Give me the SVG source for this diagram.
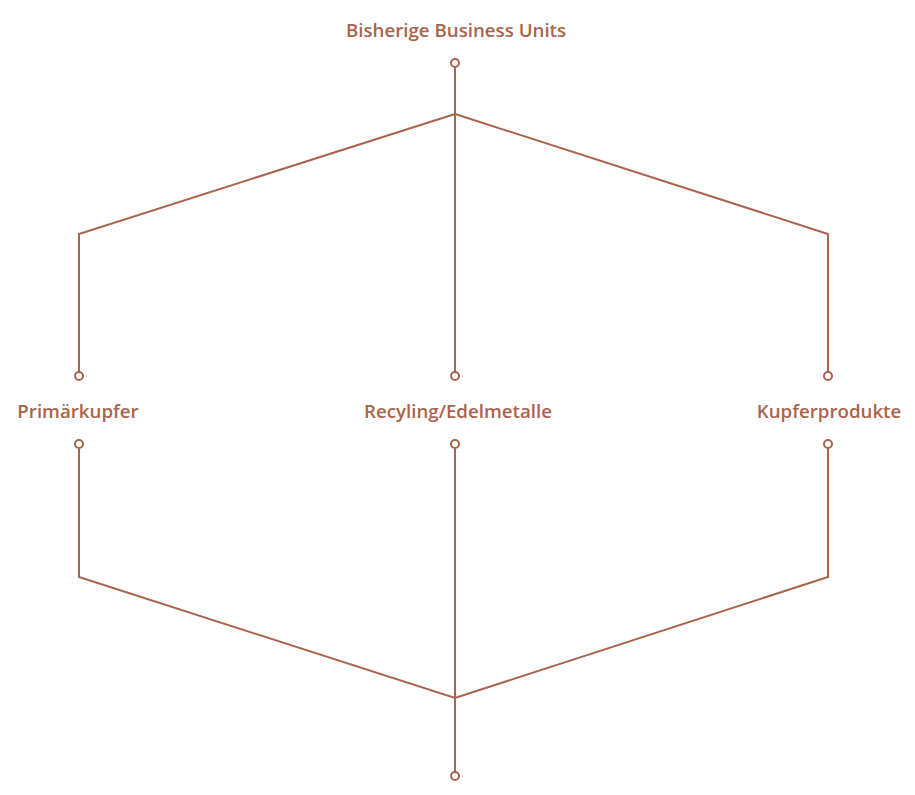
<svg xmlns="http://www.w3.org/2000/svg" width="915" height="795" viewBox="0 0 915 795">
<style>
.t{font-family:"Open Sans","Noto Sans","Liberation Sans",sans-serif;font-weight:600;font-size:18.7px;fill:#A9644C;text-anchor:middle}
.l{fill:none;stroke:#A9644C;stroke-width:2}
.c{fill:#fff;stroke:#A9644C;stroke-width:2}
</style>
<rect width="915" height="795" fill="#fff"/>
<g id="connectors">
<path class="l" d="M455 67V372M455 114L79 234V372M455 114L828 234V372"/>
<path class="l" d="M79 448V577L455 698L828 577V448M455 448V772"/>
<circle class="c" cx="455" cy="63" r="4"/>
<circle class="c" cx="79" cy="376" r="4"/>
<circle class="c" cx="455" cy="376" r="4"/>
<circle class="c" cx="828" cy="376" r="4"/>
<circle class="c" cx="79" cy="444" r="4"/>
<circle class="c" cx="455" cy="444" r="4"/>
<circle class="c" cx="828" cy="444" r="4"/>
<circle class="c" cx="455" cy="776" r="4"/>
</g>
<g id="top"><text class="t" x="456" y="37">Bisherige Business Units</text></g>
<g id="primaer"><text class="t" x="78" y="418">Primärkupfer</text></g>
<g id="recycling"><text class="t" x="458" y="418">Recyling/Edelmetalle</text></g>
<g id="kupfer"><text class="t" x="829" y="418">Kupferprodukte</text></g>
</svg>
